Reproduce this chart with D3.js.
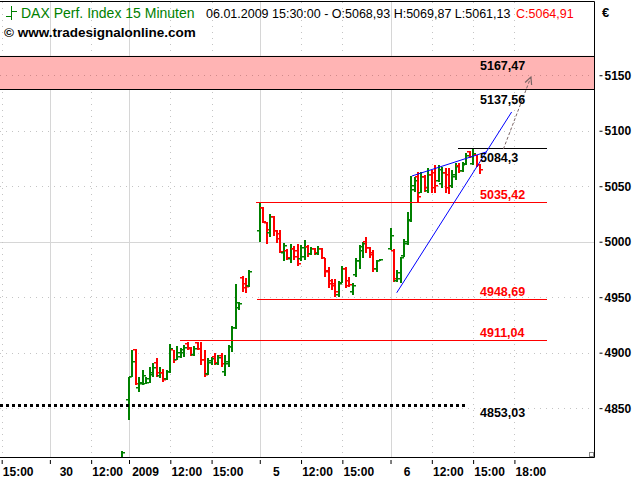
<!DOCTYPE html>
<html><head><meta charset="utf-8">
<script src="https://cdn.jsdelivr.net/npm/d3@7"></script>
<style>
body{margin:0;background:#fff}
svg{display:block}
text{font-family:"Liberation Sans",Arial,sans-serif}
</style>
</head><body>
<svg id="c" width="640" height="480"></svg>
<script>
// ---------------- DATA ----------------
const title = "DAX Perf. Index 15 Minuten";
const stamp = "06.01.2009 15:30:00";
const source = "\u00A9 www.tradesignalonline.com";
const currency = "\u20AC";

// x positions are "15-minute slots"; each trading day starts at 09:00
const dayStartSlot = {dec30: 0, jan2: 23, jan5: 61, jan6: 99};
const xTickSlots  = [-14, 0, 12, 23, 35, 47, 61, 73, 85, 99, 111, 123, 135];
const xTickLabels = ["15:00","30","12:00","2009","12:00","15:00","5","12:00","15:00","6","12:00","15:00","18:00"];
const xTickIsDay  = [false,true,false,true,false,false,true,false,false,true,false,false,false];
const yTicks = [4850, 4900, 4950, 5000, 5050, 5100, 5150];

// OHLC bars [open, high, low, close]
const dec30FirstSlot = 21;
const dec30 = [[4800, 4811, 4795, 4810]];
const jan2 = [
 [4857,4878.5,4839.5,4878],[4878.5,4902.5,4878.5,4892],[4902,4903.4,4871,4872],[4868,4878.5,4865,4873],
 [4872,4884.5,4871,4879],[4872,4878,4871.5,4876],[4873,4887.5,4872.5,4882],[4880,4891,4878.5,4886],
 [4891,4895,4878.5,4882],[4879,4887.5,4877,4882],[4882,4885,4874,4875],[4876,4884.5,4875.5,4883],
 [4883,4908,4882,4903],[4902,4902.5,4891,4893],[4893,4906,4893,4900],[4896,4904,4895,4902],
 [4900,4907,4896.5,4904],[4908,4910,4902,4903],[4904,4905.5,4897,4898],[4898,4906,4897,4903],
 [4909,4910,4902,4903],[4903,4910,4889,4893],[4893,4902.4,4878.4,4880],[4881,4895.5,4880,4892.5],
 [4891,4896,4889,4894],[4896,4900,4889,4891],[4890,4898,4889,4895],[4897,4899.5,4887.5,4890],
 [4883,4898,4879.4,4892],[4890,4907,4887.5,4905],[4905,4924.4,4901,4922],[4922,4961.6,4921.3,4945],
 [4940,4946,4938.5,4944],[4967,4969.4,4954.4,4958],[4962,4967,4953.5,4959],[4960,4974.5,4959.5,4973]
];
const jan5 = [
 [5010,5034.6,5000,5030],[5030,5031.6,5017,5018],[5017,5018,4997.6,5011],[5008,5025,5004,5022],
 [5022,5023,5005,5010],[5010,5011,4999,5002],[5007,5010.5,4989.5,4991],[4990,4998.5,4982.6,4996],
 [4992,4993,4983.5,4985],[4984,4997.6,4980.5,4993],[4993,4996,4983.5,4986],[4992,4997.6,4978,4980],
 [4984,4997,4983,4994],[4986,5001.5,4983.5,4995],[4995,4997,4986.5,4989],[4989,4995,4988,4993],
 [4993,4994,4988,4990],[4989,4996,4988,4993],[4993,4994,4984,4985],[4985,4985.5,4968.5,4973],
 [4974,4977.5,4958,4962],[4965,4966,4956.5,4960],[4962,4966,4950.5,4955],[4952,4965,4950.5,4962],
 [4963,4978,4962.5,4975],[4975,4977.5,4958,4960],[4965,4968.5,4959.5,4961],[4955,4962.5,4952,4960],
 [4970,4985,4968.5,4983],[4983,4997,4975,4995],[4992,5000,4985,4998],[5000,5004.5,4990,4994],
 [4994,4995,4985,4988],[4990,4992.5,4973,4975],[4975,4983.5,4973,4983],[4983,4984,4982.5,4983.5]
];
const jan6 = [
 [4993,5012,4992.5,5005],[4992,4993,4964,4966],[4965,4974.5,4964,4972],[4966,4986.5,4962.5,4985],
 [4987,5002,4986.5,5000],[4998,5027,4997,5020],[5019,5059,5018,5050],[5047,5058,5045,5055],
 [5058,5063,5036,5040],[5044,5063,5043.5,5058],[5058,5060,5045,5048],[5046,5066,5043.5,5060],
 [5060,5064.6,5043.5,5048],[5062,5069,5043.5,5050],[5055,5069,5054,5065],[5052,5067.6,5048,5062],
 [5062,5066,5043.5,5048],[5060,5066,5043,5050],[5050,5064.6,5048,5060],[5058,5070.6,5055.6,5067],
 [5068,5070.6,5061.6,5064],[5064,5072,5063,5070],[5069,5079.6,5069,5077],[5081,5082,5075,5076],
 [5070,5084,5069,5079],[5078,5078.5,5067.6,5069],[5068.93,5069.87,5061.13,5064.91]
];

// horizontal levels
const levelValues = [5084.3, 5035.42, 4948.69, 4911.04, 4853.03];
const levelLabels = ["5084,3", "5035,42", "4948,69", "4911,04", "4853,03"];
const levelFrom   = [118.6, 60.0, 60.2, 37.8, -14.49];
const levelTo     = [144.6, 144.6, 144.6, 144.6, 121.2];
const levelIsRed  = [false, true, true, true, false];
const levelDotted = [false, false, false, false, true];
const zoneValues  = [5137.56, 5167.47];
const zoneLabels  = ["5137,56", "5167,47"];
const labelSlot = 125;

// trend lines [slot, price]
const channelUpper = [[105.2, 5059.2], [127.0, 5081.1]];
const channelLower = [[100.8, 4954.0], [134.2, 5116.9]];
const targetArrow  = [[131.8, 5083.5], [139.8, 5148.4]];

// ---------------- CHART ----------------
const svg = d3.select("#c");
const P = {left: 0, right: 594, top: 2, bottom: 457};
const x = d3.scaleLinear().domain([-14.49, 158.13]).range([P.left, P.right]);
const y = d3.scaleLinear().domain([4806, 5216]).range([P.bottom, P.top]);
const GREEN = "#008000", RED = "#ff0000";
const fmt = v => v.toFixed(2).replace(".", ",");

svg.append("defs").append("clipPath").attr("id","clip")
  .append("rect").attr("x",P.left).attr("y",P.top).attr("width",P.right-P.left).attr("height",P.bottom-P.top);

const grid = svg.append("g");
yTicks.forEach(v => {
  const yy = Math.round(y(v)) + 0.5;
  grid.append("line").attr("x1",P.left).attr("x2",P.right).attr("y1",yy).attr("y2",yy)
    .attr("stroke", v === 5000 ? "#d6d6d6" : "#c4c4c4")
    .attr("stroke-dasharray", v === 5000 ? null : "1,5");
});
xTickSlots.forEach((s,i) => {
  const xx = Math.round(x(s)) + 0.5;
  grid.append("line").attr("x1",xx).attr("x2",xx).attr("y1",P.top).attr("y2",P.bottom)
    .attr("stroke", xTickIsDay[i] ? "#d6d6d6" : "#c4c4c4")
    .attr("stroke-dasharray", xTickIsDay[i] ? null : "1,5");
});

// zone band
const zb = svg.append("g");
zb.append("rect").attr("x",P.left).attr("width",P.right-P.left)
  .attr("y", y(zoneValues[1])).attr("height", y(zoneValues[0]) - y(zoneValues[1]))
  .attr("fill","#ffb4b4");
zoneValues.forEach(v => {
  const yy = Math.round(y(v)) + 0.5;
  zb.append("line").attr("x1",P.left).attr("x2",P.right).attr("y1",yy).attr("y2",yy).attr("stroke","#000");
});
zb.append("line").attr("x1",P.left).attr("x2",P.right)
  .attr("y1",Math.round(y(5150))+0.5).attr("y2",Math.round(y(5150))+0.5)
  .attr("stroke","#d08a8a").attr("stroke-dasharray","1,5");

// bars
const bars = [];
dec30.forEach((b,i) => bars.push({s: dec30FirstSlot + i, o:b[0], h:b[1], l:b[2], c:b[3]}));
[[jan2, dayStartSlot.jan2],[jan5, dayStartSlot.jan5],[jan6, dayStartSlot.jan6]].forEach(([arr, st]) =>
  arr.forEach((b,i) => bars.push({s: st + i, o:b[0], h:b[1], l:b[2], c:b[3]})));

const bg = svg.append("g").attr("clip-path","url(#clip)");
const bj = bg.selectAll("g.bar").data(bars).join("g").attr("class","bar")
  .attr("fill", d => d.c >= d.o ? GREEN : RED);
bj.append("rect").attr("x", d => Math.round(x(d.s)) - 1).attr("width", 2)
  .attr("y", d => Math.round(y(d.h))).attr("height", d => Math.max(1, Math.round(y(d.l)) - Math.round(y(d.h))));
bj.append("rect").attr("x", d => Math.round(x(d.s)) - 3).attr("width", 2)
  .attr("y", d => Math.round(y(d.o)) - 1).attr("height", 1.5);
bj.append("rect").attr("x", d => Math.round(x(d.s)) + 1).attr("width", 2)
  .attr("y", d => Math.round(y(d.c)) - 1).attr("height", 1.5);

// level lines
const lv = svg.append("g").attr("shape-rendering","crispEdges");
levelValues.forEach((v,i) => {
  const yy = Math.round(y(v)) + 0.5;
  lv.append("line").attr("x1", x(levelFrom[i])).attr("x2", x(levelTo[i])).attr("y1", yy).attr("y2", yy)
    .attr("stroke", levelIsRed[i] ? RED : "#000").attr("stroke-width", levelDotted[i] ? 3 : 1.2)
    .attr("stroke-dasharray", levelDotted[i] ? "3,3" : null);
});

// trend lines
const lineGen = d3.line().x(d => x(d[0])).y(d => y(d[1]));
svg.append("path").attr("d", lineGen(channelUpper)).attr("stroke","#0000ff").attr("fill","none");
svg.append("path").attr("d", lineGen(channelLower)).attr("stroke","#0000ff").attr("fill","none");

// target arrow
const ta = svg.append("g");
ta.append("path").attr("d", lineGen(targetArrow)).attr("stroke","#7a6464").attr("fill","none")
  .attr("stroke-dasharray","3,2");
{
  const x1 = x(targetArrow[0][0]), y1 = y(targetArrow[0][1]);
  const x2 = x(targetArrow[1][0]), y2 = y(targetArrow[1][1]);
  const a = Math.atan2(y2 - y1, x2 - x1), L = 8, w = 0.45;
  const p = [[x2 - L*Math.cos(a - w), y2 - L*Math.sin(a - w)], [x2, y2], [x2 - L*Math.cos(a + w), y2 - L*Math.sin(a + w)]];
  ta.append("path").attr("d", d3.line()(p)).attr("stroke","#7a6464").attr("fill","none").attr("stroke-width",1.2);
}

// level labels
const lab = svg.append("g").attr("font-size", 12.5).attr("font-weight","bold");
const labelX = x(labelSlot);
const labelOffset = [14, -3, -3, -3, 12];
levelValues.forEach((v,i) => {
  lab.append("text").attr("x", labelX).attr("y", y(v) + labelOffset[i])
    .attr("fill", levelIsRed[i] ? RED : "#000").text(levelLabels[i]);
});
lab.append("text").attr("x", labelX).attr("y", y(zoneValues[0]) + 15).attr("fill","#000").text(zoneLabels[0]);
lab.append("text").attr("x", labelX).attr("y", y(zoneValues[1]) + 14).attr("fill","#000").text(zoneLabels[1]);

// frame
const fr = svg.append("g").attr("stroke","#000").attr("stroke-width",1);
fr.append("line").attr("x1",P.left).attr("x2",P.right+0.5).attr("y1",1.5).attr("y2",1.5);
fr.append("line").attr("x1",P.left).attr("x2",P.right+0.5).attr("y1",P.bottom+0.5).attr("y2",P.bottom+0.5);
fr.append("line").attr("x1",P.right+0.5).attr("x2",P.right+0.5).attr("y1",1.5).attr("y2",P.bottom+0.5);
svg.append("rect").attr("x",P.right-4.5).attr("y",P.bottom-4.5).attr("width",4).attr("height",4)
  .attr("fill","#fff").attr("stroke","#888");

// axes
const ya = svg.append("g").attr("transform", `translate(${P.right + 5.5},0)`)
  .call(d3.axisRight(y).tickValues(yTicks).tickFormat(d3.format("d")).tickSize(3).tickPadding(2));
ya.select(".domain").remove();
ya.selectAll("text").attr("font-family",'"Liberation Sans",Arial,sans-serif')
  .attr("font-size",12).attr("font-weight","bold").attr("fill","#000");

const xa = svg.append("g").attr("transform", `translate(0,${P.bottom + 3})`)
  .call(d3.axisBottom(x).tickValues(xTickSlots).tickFormat((d,i) => xTickLabels[i]).tickSize(4).tickPadding(3));
xa.select(".domain").remove();
xa.selectAll("text").attr("font-family",'"Liberation Sans",Arial,sans-serif')
  .attr("font-size",12).attr("font-weight","bold").attr("fill","#000")
  .attr("text-anchor","middle").attr("dx", 16);

// header
const hd = svg.append("g");
hd.append("path").attr("d","M11.5,6V20M6,16.5H11.5M11.5,11.5H17").attr("stroke",GREEN).attr("stroke-width",1).attr("fill","none");
hd.append("text").attr("x",21).attr("y",18).attr("font-size",14).attr("fill",GREEN).text(title);
const last = jan6[jan6.length - 1];
hd.append("text").attr("x",206).attr("y",18).attr("font-size",12.5).attr("fill","#000")
  .text(`${stamp} - O:${fmt(last[0])} H:${fmt(last[1])} L:${fmt(last[2])}`);
hd.append("text").attr("x",516).attr("y",18).attr("font-size",12.5).attr("fill",RED).text(`C:${fmt(last[3])}`);
hd.append("text").attr("x",4).attr("y",37).attr("font-size",13.5).attr("font-weight","bold").attr("fill","#000").text(source);
hd.append("text").attr("x",602).attr("y",17).attr("font-size",13).attr("font-weight","bold").attr("fill","#000").text(currency);
</script>
</body></html>
